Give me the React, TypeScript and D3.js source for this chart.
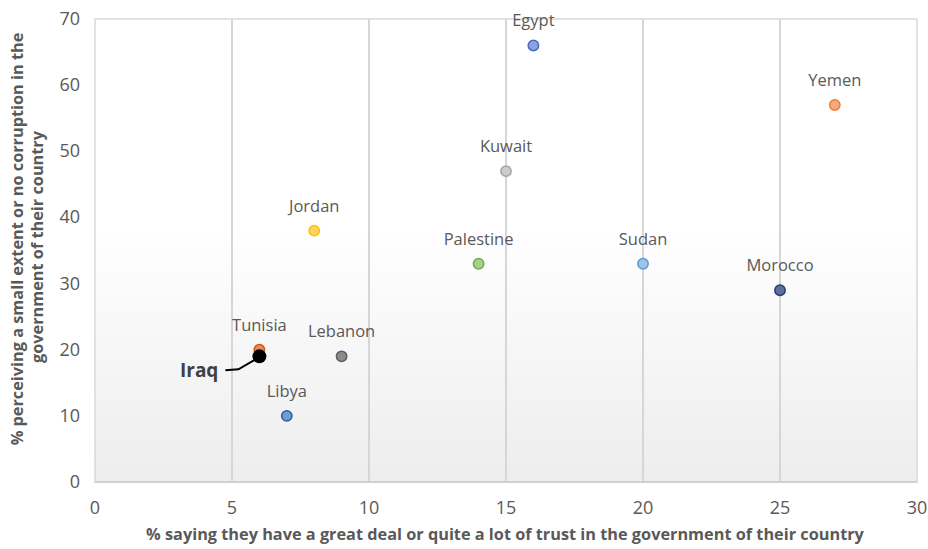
import React from "react";
import * as d3 from "d3";

const countries = ["Egypt", "Yemen", "Kuwait", "Jordan", "Palestine", "Sudan", "Morocco", "Tunisia", "Lebanon", "Libya"];
const trustValues = [16, 27, 15, 8, 14, 20, 25, 6, 9, 7];
const corruptionValues = [66, 57, 47, 38, 33, 33, 29, 20, 19, 10];
const fillColors = ["#8ea2e0", "#f5a97e", "#cbcbcb", "#ffd45e", "#a8d08d", "#9dc3e6", "#5e6f9e", "#ee8a5a", "#8a8a8a", "#6d9ad8"];
const strokeColors = ["#4a68c6", "#ed7d31", "#a5a5a5", "#ffc000", "#70ad47", "#5b9bd5", "#263f78", "#c55a11", "#5f5f5f", "#2e5f9e"];
const highlight = { name: "Iraq", trust: 6, corruption: 19 };
const xTicks = [0, 5, 10, 15, 20, 25, 30];
const yTicks = [0, 10, 20, 30, 40, 50, 60, 70];

const W = 928, H = 549;
const M = { left: 95, right: 11, top: 19, bottom: 67 };
const FONT = "'Open Sans', sans-serif";

export default function App() {
  const x = d3.scaleLinear().domain([0, 30]).range([M.left, W - M.right]);
  const y = d3.scaleLinear().domain([0, 70]).range([H - M.bottom, M.top]);
  const iraqX = x(highlight.trust), iraqY = y(highlight.corruption);
  const leader = d3.line().curve(d3.curveLinear)([
    [iraqX - 34, iraqY + 14],
    [iraqX - 21, iraqY + 13],
    [iraqX - 2, iraqY + 2],
  ]);
  return (
    <svg width={W} height={H} style={{ position: "absolute", left: 0, top: 0, background: "#fff" }}>
      <defs>
        <linearGradient id="bg" x1="0" y1="0" x2="0" y2="1">
          <stop offset="0" stopColor="#ffffff" />
          <stop offset="0.45" stopColor="#ffffff" />
          <stop offset="1" stopColor="#ededed" />
        </linearGradient>
      </defs>
      <rect x={x(0)} y={y(70)} width={x(30) - x(0)} height={y(0) - y(70)} fill="url(#bg)" stroke="#d9d9d9" strokeWidth={1.5} />
      {xTicks.slice(1, -1).map((t) => (
        <line key={t} x1={x(t)} x2={x(t)} y1={y(0)} y2={y(70)} stroke="#d6d6d6" strokeWidth={2} />
      ))}
      <line x1={x(0)} x2={x(30)} y1={y(0)} y2={y(0)} stroke="#d0d0d0" strokeWidth={2} />
      {xTicks.map((t) => (
        <text key={t} x={x(t)} y={y(0) + 32} textAnchor="middle" fontFamily={FONT} fontSize={18} fill="#595959">{t}</text>
      ))}
      {yTicks.map((t) => (
        <text key={t} x={x(0) - 15} y={y(t) + 6} textAnchor="end" fontFamily={FONT} fontSize={18} fill="#595959">{t}</text>
      ))}
      {countries.map((c, i) => (
        <g key={c}>
          <circle cx={x(trustValues[i])} cy={y(corruptionValues[i])} r={5.2} fill={fillColors[i]} stroke={strokeColors[i]} strokeWidth={1.5} />
          <text x={x(trustValues[i])} y={y(corruptionValues[i]) - 19} textAnchor="middle" fontFamily={FONT} fontSize={16.5} fill="#595959">{c}</text>
        </g>
      ))}
      <path d={leader || ""} fill="none" stroke="#000" strokeWidth={2} />
      <circle cx={iraqX} cy={iraqY} r={7} fill="#000" />
      <text x={iraqX - 41} y={iraqY + 21} textAnchor="end" fontFamily={FONT} fontSize={19} fontWeight="bold" fill="#404040">{highlight.name}</text>
      <text x={505} y={H - 9} textAnchor="middle" fontFamily={FONT} fontSize={16.3} fontWeight="bold" fill="#595959">
        % saying they have a great deal or quite a lot of trust in the government of their country
      </text>
      <g transform="rotate(-90)">
        <text x={-239} y={23} textAnchor="middle" fontFamily={FONT} fontSize={16.3} fontWeight="bold" fill="#595959">% perceiving a small extent or no corruption in the</text>
        <text x={-247} y={43} textAnchor="middle" fontFamily={FONT} fontSize={16.3} fontWeight="bold" fill="#595959">government of their country</text>
      </g>
    </svg>
  );
}
